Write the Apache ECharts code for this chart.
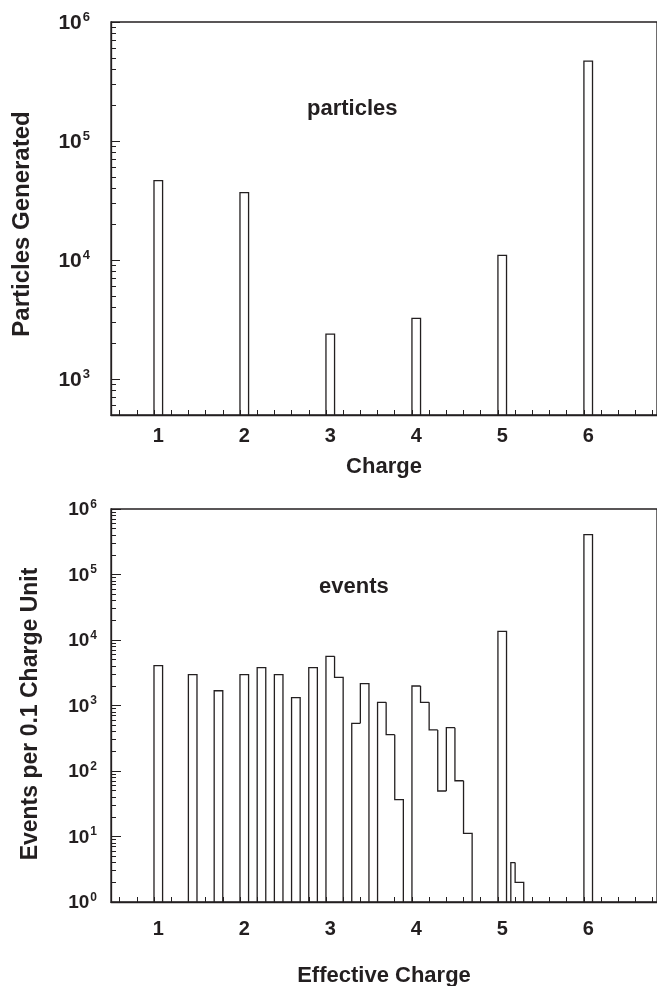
<!DOCTYPE html>
<html>
<head>
<meta charset="utf-8">
<script src="https://cdn.jsdelivr.net/npm/echarts@6/dist/echarts.min.js"></script>
<style>
  html, body { margin: 0; padding: 0; background: #fff; }
  #chart { width: 657px; height: 986px; }
</style>
</head>
<body>
<div id="chart"></div>
<script>
// top panel: particles generated per charge
const charges = [1, 2, 3, 4, 5, 6];
const particles = [46500, 36900, 2390, 3240, 10970, 470000];

// bottom panel: events per 0.1 charge unit (bin edges + counts)
const evLo = [0.95, 1.35, 1.65, 1.95, 2.15, 2.35, 2.55, 2.75, 2.95, 3.05, 3.25, 3.35, 3.55, 3.65, 3.75,
  3.95, 4.05, 4.15, 4.25, 4.35, 4.45, 4.55, 4.95, 5.10, 5.15, 5.95];
const evHi = [1.05, 1.45, 1.75, 2.05, 2.25, 2.45, 2.65, 2.85, 3.05, 3.15, 3.35, 3.45, 3.65, 3.75, 3.85,
  4.05, 4.15, 4.25, 4.35, 4.45, 4.55, 4.65, 5.05, 5.15, 5.25, 6.05];
const evCounts = [4060, 2960, 1680, 2960, 3780, 2960, 1320, 3780, 5630, 2690, 535, 2155, 1117, 359, 36.5,
  1985, 1117, 423, 49.5, 459, 71, 11.2, 13560, 4, 2, 405000];

// axis ticks / labels
const xLabels = [1, 2, 3, 4, 5, 6];
const xTicks = [0.55, 0.75, 0.95, 1.15, 1.35, 1.55, 1.75, 1.95, 2.15, 2.35, 2.55, 2.75, 2.95, 3.15, 3.35,
  3.55, 3.75, 3.95, 4.15, 4.35, 4.55, 4.75, 4.95, 5.15, 5.35, 5.55, 5.75, 5.95, 6.15, 6.35, 6.55, 6.75];
const topDecades = [1e3, 1e4, 1e5, 1e6];
const botDecades = [1, 1e1, 1e2, 1e3, 1e4, 1e5, 1e6];

const INK = '#231f20';
const FONT = '"Liberation Sans", Arial, sans-serif';

function minorTicks(decades, min) {
  const out = [];
  [decades[0] / 10].concat(decades).forEach(d => {
    for (let k = 2; k <= 9; k++) {
      const v = d * k;
      if (v >= min && v < decades[decades.length - 1]) out.push(v);
    }
  });
  return out;
}

function powLabel(v) {
  return '{b|10}{e|' + Math.round(Math.log10(v)) + '}';
}

// step outline histogram, like ROOT draws it
function histRender(lo, hi, counts, base) {
  return function (params, api) {
    const i = params.dataIndex;
    const tl = api.coord([lo[i], counts[i]]);
    const tr = api.coord([hi[i], counts[i]]);
    const baseY = api.coord([lo[i], base])[1];
    const prevAdj = i > 0 && Math.abs(hi[i - 1] - lo[i]) < 1e-6;
    const nextAdj = i < lo.length - 1 && Math.abs(lo[i + 1] - hi[i]) < 1e-6;
    const startY = prevAdj ? api.coord([lo[i], counts[i - 1]])[1] : baseY;
    const pts = [[tl[0], startY], tl, tr];
    if (!nextAdj) pts.push([tr[0], baseY]);
    return {
      type: 'polyline',
      shape: { points: pts },
      style: { fill: null, stroke: INK, lineWidth: 1.3 }
    };
  };
}

function xAxisOf(gridIndex, name, nameGap, labelMargin) {
  return {
    type: 'value', gridIndex, min: 0.45, max: 6.8,
    name, nameLocation: 'middle', nameGap,
    nameTextStyle: { fontFamily: FONT, fontWeight: 'bold', fontSize: 22, color: INK },
    axisLine: { lineStyle: { color: INK, width: 1.3 } },
    axisTick: { inside: true, length: 5, customValues: xTicks, lineStyle: { color: INK, width: 1 } },
    axisLabel: { customValues: xLabels, margin: labelMargin, fontFamily: FONT, fontWeight: 'bold', fontSize: 20, color: INK },
    splitLine: { show: false }
  };
}

function yAxesOf(gridIndex, min, decades, margin, big, small, majorLen) {
  return [{
    type: 'log', gridIndex, min, max: 1e6, logBase: 10, position: 'left',
    axisLine: { show: true, lineStyle: { color: INK, width: 1.3 } },
    axisTick: { inside: true, length: majorLen, customValues: decades, lineStyle: { color: INK, width: 1 } },
    axisLabel: {
      customValues: decades, margin, formatter: powLabel,
      rich: {
        b: { fontFamily: FONT, fontWeight: 'bold', fontSize: big, color: INK, lineHeight: big + 2, verticalAlign: 'bottom' },
        e: { fontFamily: FONT, fontWeight: 'bold', fontSize: small, color: INK, lineHeight: small, verticalAlign: 'top', padding: [0, 0, 0, 1] }
      }
    },
    splitLine: { show: false }
  }, {
    type: 'log', gridIndex, min, max: 1e6, logBase: 10, position: 'left',
    axisLine: { show: false },
    axisTick: { inside: true, length: 5, customValues: minorTicks(decades, min), lineStyle: { color: INK, width: 1 } },
    axisLabel: { show: false },
    splitLine: { show: false }
  }];
}

const titleFont = 'bold 23px ' + FONT;

const chart = echarts.init(document.getElementById('chart'));

chart.setOption({
  backgroundColor: '#fff',
  animation: false,
  grid: [
    { left: 111, top: 22, width: 546, height: 393, outerBoundsMode: 'none', show: true, borderColor: INK, borderWidth: 1.3 },
    { left: 111, top: 509, width: 546, height: 393, outerBoundsMode: 'none', show: true, borderColor: INK, borderWidth: 1.3 }
  ],
  xAxis: [
    xAxisOf(0, 'Charge', 41, 11),
    xAxisOf(1, 'Effective Charge', 63, 17)
  ],
  yAxis: [].concat(
    yAxesOf(0, 500, topDecades, 21, 21, 13, 9),
    yAxesOf(1, 1, botDecades, 14, 19, 12, 10)
  ),
  graphic: [
    { type: 'text', left: 307, top: 98, style: { text: 'particles', font: 'bold 22px ' + FONT, fill: INK } },
    { type: 'text', left: 319, top: 576, style: { text: 'events', font: 'bold 22px ' + FONT, fill: INK } },
    { type: 'text', x: 22, y: 224, rotation: Math.PI / 2,
      style: { text: 'Particles Generated', font: 'bold 24px ' + FONT, fill: INK, align: 'center', verticalAlign: 'middle' } },
    { type: 'text', x: 31, y: 714, rotation: Math.PI / 2,
      style: { text: 'Events per 0.1 Charge Unit', font: titleFont, fill: INK, align: 'center', verticalAlign: 'middle' } }
  ],
  series: [{
    type: 'custom',
    xAxisIndex: 0, yAxisIndex: 0,
    renderItem: histRender(charges.map(c => c - 0.05), charges.map(c => c + 0.05), particles, 500),
    encode: { x: [0, 1], y: 2 },
    data: charges.map((c, i) => [c - 0.05, c + 0.05, particles[i]]),
    clip: true
  }, {
    type: 'custom',
    xAxisIndex: 1, yAxisIndex: 2,
    renderItem: histRender(evLo, evHi, evCounts, 1),
    encode: { x: [0, 1], y: 2 },
    data: evLo.map((lo, i) => [lo, evHi[i], evCounts[i]]),
    clip: true
  }]
});
</script>
</body>
</html>
